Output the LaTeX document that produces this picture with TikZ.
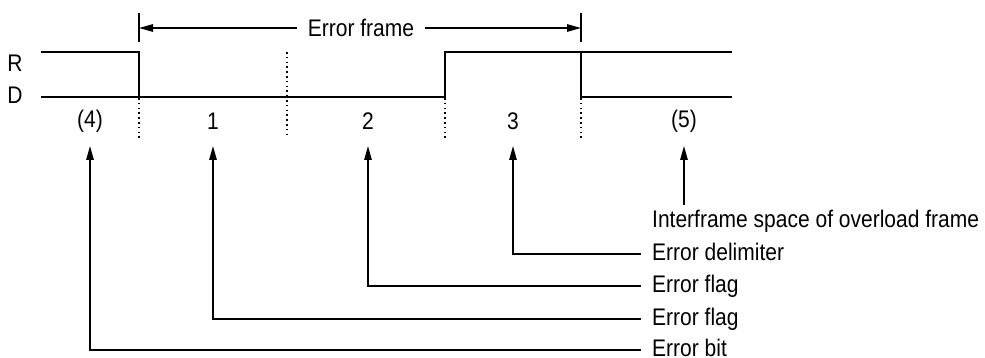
\documentclass[tikz,border=0pt]{standalone}
\usepackage{fontspec}
\setmainfont{Liberation Sans}[FakeStretch=0.875]
\usetikzlibrary{arrows.meta}
\tikzset{
  sig/.style={line width=1.8pt, line join=miter},
  conn/.style={line width=1.4pt},
  arr/.style={line width=1.4pt, -{Triangle[length=14pt,width=7.5pt]}},
  dotln/.style={line width=1.3pt, dash pattern=on 1.6pt off 3.2pt},
  lbl/.style={inner sep=0pt, font=\fontsize{24}{28}\selectfont},
  side/.style={lbl, anchor=base west},
}
\begin{document}
\begin{tikzpicture}[x=1pt,y=-1pt]
\useasboundingbox (0,0) rectangle (985,358);
% level labels
\node[lbl] (R) at (15,63) {R};
\node[lbl] (D) at (15,95) {D};
% waveform
\draw[sig] (41,52) -- (139,52) -- (139,97);
\draw[sig] (41,97) -- (445,97) -- (445,52) -- (732,52);
\draw[sig] (581,52) -- (581,97) -- (732,97);
% frame bracket
\coordinate (fl) at (139,28);
\coordinate (fr) at (581,28);
\draw[conn] (139,13) -- (139,42);
\draw[conn] (581,13) -- (581,42);
\node[lbl, inner xsep=11pt] (ef) at (361,28) {Error frame};
\draw[arr] (ef.west |- fl) -- (fl);
\draw[arr] (ef.east |- fr) -- (fr);
% dotted separators
\draw[dotln] (139,98) -- (139,138);
\draw[dotln] (287,52) -- (287,135);
\draw[dotln] (445,98) -- (445,138);
\draw[dotln] (581,98) -- (581,138);
% field numbers
\node[lbl] (n4) at (90,121) {(4)};
\node[lbl] (n1) at (213,121) {1};
\node[lbl] (n2) at (368,121) {2};
\node[lbl] (n3) at (513,121) {3};
\node[lbl] (n5) at (684,121) {(5)};
% arrow tips
\coordinate (t4) at (90,146);
\coordinate (t1) at (213,146);
\coordinate (t2) at (368,146);
\coordinate (t3) at (513,146);
\coordinate (t5) at (684,146);
% line ends
\coordinate (e5) at (684,205);
\coordinate (e3) at (641,254);
\coordinate (e2) at (641,286);
\coordinate (e1) at (641,319);
\coordinate (e4) at (641,350);
% side labels
\node[side] (l5) at (652,228) {Interframe space of overload frame};
\node[side] (l3) at (652,260) {Error delimiter};
\node[side] (l2) at (652,292) {Error flag};
\node[side] (l1) at (652,325) {Error flag};
\node[side] (l4) at (652,356) {Error bit};
% connectors
\draw[arr] (e5) -- (t5);
\draw[arr] (e3) -| (t3);
\draw[arr] (e2) -| (t2);
\draw[arr] (e1) -| (t1);
\draw[arr] (e4) -| (t4);
\end{tikzpicture}
\end{document}
